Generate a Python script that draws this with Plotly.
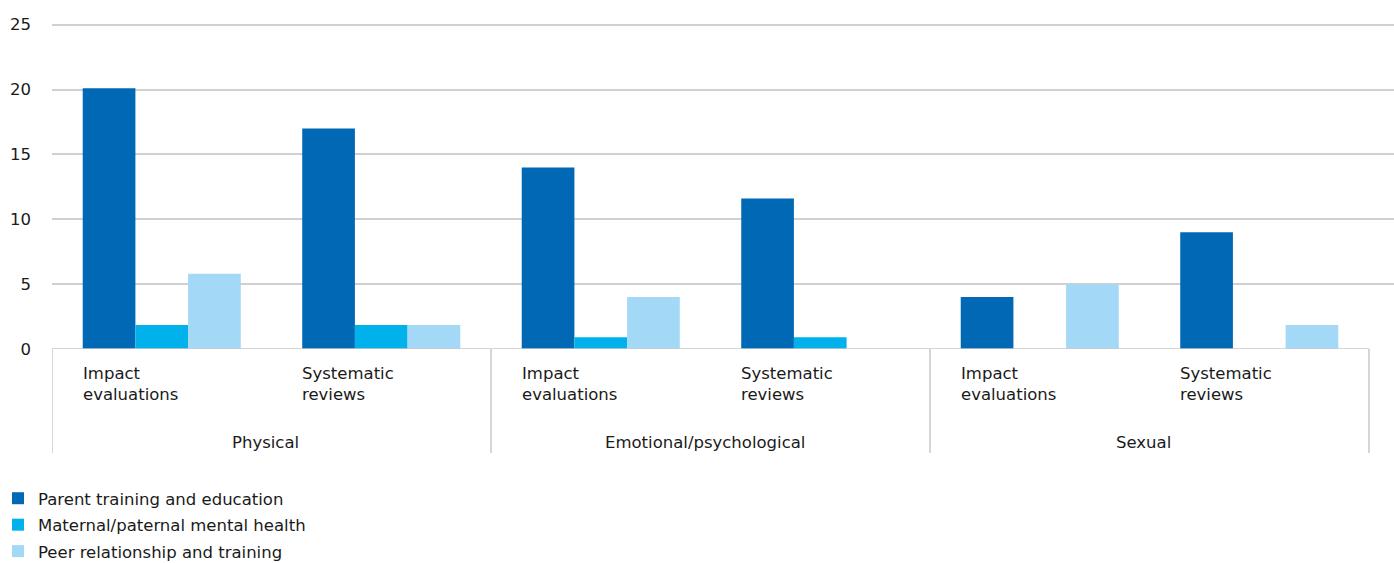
import plotly.graph_objects as go

groups = ["Physical", "Emotional/psychological", "Sexual"]
subcats = ["Impact<br>evaluations", "Systematic<br>reviews"]
series_names = ["Parent training and education", "Maternal/paternal mental health", "Peer relationship and training"]
parent = [20.1, 17.0, 14.0, 11.6, 4.0, 9.0]
maternal = [1.85, 1.85, 0.9, 0.9, 0.0, 0.0]
peer = [5.8, 1.85, 4.0, 0.0, 5.0, 1.85]
yticks = [0, 5, 10, 15, 20, 25]
colors = ["#0068b4", "#00b1eb", "#a3d9f6"]

FONT = "DejaVu Sans"
W, H = 1394, 563
L, R, T, B = 52, 0, 18, 214
ph = H - T - B
pw = W - L - R
ymax = ph / ((H - B - 24.7) / 25)

n = len(groups) * len(subcats)
xs = list(range(n))

fig = go.Figure()
for k, (name, vals, col) in enumerate(zip(series_names, [parent, maternal, peer], colors)):
    fig.add_trace(go.Bar(x=xs, y=vals, name=name, legendgroup=f"g{k}",
                         marker=dict(color=col, line=dict(width=0))))

def py(pix):
    # pixel y (from top) -> paper y
    return (H - B - pix) / ph

def px(pix):
    return (pix - L) / pw

shapes = []
annotations = []
# category axis baseline
shapes.append(dict(type="line", xref="x", yref="y", x0=-0.5, x1=n - 0.5, y0=0, y1=0,
                   line=dict(color="#c8c8c8", width=1.5), layer="above"))
# cover the zero gridline beyond category range
shapes.append(dict(type="line", xref="x", yref="y", x0=n - 0.5 + 0.004, x1=n + 1, y0=0, y1=0,
                   line=dict(color="white", width=3), layer="above"))
# group dividers
for k in range(len(groups) + 1):
    xv = -0.5 + k * len(subcats)
    shapes.append(dict(type="line", xref="x", yref="paper", x0=xv, x1=xv, y0=0, y1=py(453),
                       line=dict(color="#c8c8c8", width=1.5)))
# sub-category labels
for i in range(n):
    annotations.append(dict(x=i - 0.37, y=py(362), xref="x", yref="paper", text=subcats[i % len(subcats)],
                            showarrow=False, xanchor="left", yanchor="top", align="left",
                            font=dict(family=FONT, size=16.5, color="#1a1a1a")))
# group labels
for g, name in enumerate(groups):
    annotations.append(dict(x=g * len(subcats) + 0.5, y=py(442), xref="x", yref="paper", text=name,
                            showarrow=False, xanchor="center", yanchor="middle", xshift=-6,
                            font=dict(family=FONT, size=16.5, color="#1a1a1a")))

fig.update_layout(
    width=W, height=H,
    margin=dict(l=L, r=R, t=T, b=B, autoexpand=False),
    paper_bgcolor="white", plot_bgcolor="white",
    barmode="group", bargap=0.28, bargroupgap=0,
    font=dict(family=FONT, size=16.5, color="#1a1a1a"),
    shapes=shapes, annotations=annotations,
    xaxis=dict(range=[-0.5, n - 0.5 + 25 / 219.6], showticklabels=False, showgrid=False,
               zeroline=False, showline=False, fixedrange=True, automargin=False),
    yaxis=dict(range=[0, ymax], tickvals=yticks, showgrid=True, gridcolor="#d0d0d0", gridwidth=1.5,
               zeroline=False, showline=False, ticks="", ticklabelstandoff=20, automargin=False,
               tickfont=dict(family=FONT, size=16.5, color="#1a1a1a")),
    legend=dict(orientation="v", xref="paper", yref="paper",
                x=px(-2), y=py(481), xanchor="left", yanchor="top",
                font=dict(family=FONT, size=16.5, color="#1a1a1a"), itemwidth=30,
                tracegroupgap=2, bgcolor="rgba(0,0,0,0)"),
    showlegend=True,
)

fig.write_html("out.html", config={"displayModeBar": False},
               post_script="document.body.style.margin='0';document.body.style.padding='0';")
